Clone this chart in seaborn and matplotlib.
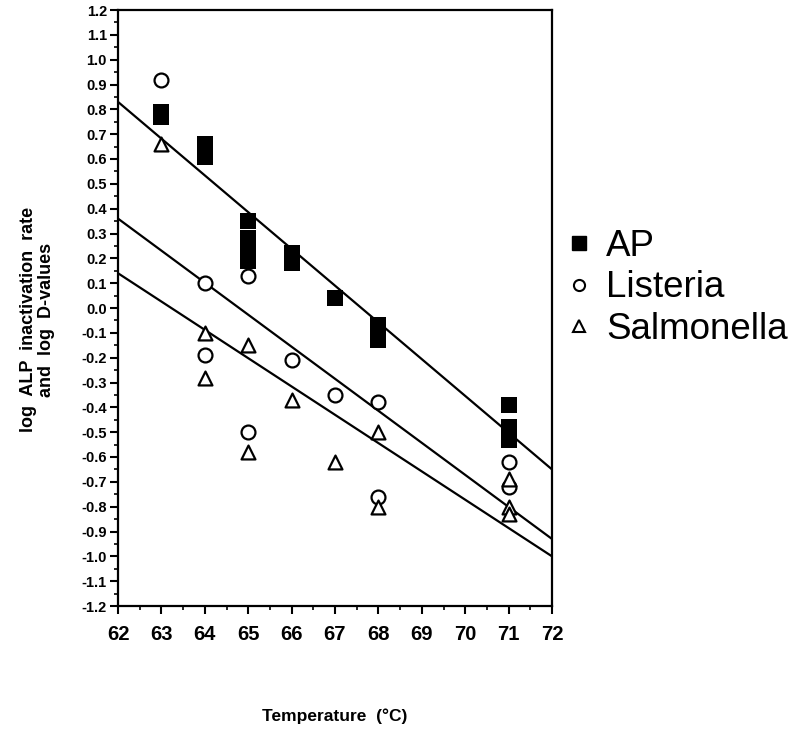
import numpy as np
import pandas as pd
import seaborn as sns
from matplotlib import pyplot as plt
from matplotlib.lines import Line2D

# values
ap_temp = [63, 63, 64, 64, 65, 65, 65, 65, 66, 66, 67, 68, 68, 68, 71, 71, 71]
ap_log = [0.79, 0.77, 0.66, 0.61, 0.35, 0.28, 0.24, 0.19, 0.22, 0.18, 0.04,
          -0.07, -0.10, -0.13, -0.39, -0.48, -0.53]

listeria_temp = [63, 64, 64, 65, 65, 66, 67, 68, 68, 71, 71]
listeria_log = [0.92, 0.10, -0.19, 0.13, -0.50, -0.21, -0.35, -0.38, -0.76, -0.62, -0.72]

salmonella_temp = [63, 64, 64, 65, 65, 66, 67, 68, 68, 71, 71, 71]
salmonella_log = [0.66, -0.10, -0.28, -0.15, -0.58, -0.37, -0.62, -0.50, -0.80,
                  -0.69, -0.80, -0.83]

# fitted lines, end points at 62 and 72
fit_temp = [62, 72]
ap_fit = [0.83, -0.65]
listeria_fit = [0.36, -0.93]
salmonella_fit = [0.14, -1.00]

x_ticks = [62, 63, 64, 65, 66, 67, 68, 69, 70, 71, 72]
y_ticks = np.round(np.arange(-1.2, 1.21, 0.1), 1)

sns.set_style("ticks")
plt.rcParams['font.family'] = ['Liberation Sans', 'DejaVu Sans']
plt.rcParams['text.color'] = 'black'
plt.rcParams['axes.labelcolor'] = 'black'
plt.rcParams['xtick.color'] = 'black'
plt.rcParams['ytick.color'] = 'black'

fig = plt.figure(figsize=(7.92, 7.39), dpi=100)
ax = fig.add_axes([118 / 792, 1 - 606 / 739, 434 / 792, 596 / 739])

for fit in (ap_fit, listeria_fit, salmonella_fit):
    sns.lineplot(x=fit_temp, y=fit, ax=ax, color="black", linewidth=1.6)

df_ap = pd.DataFrame({"t": ap_temp, "v": ap_log})
df_li = pd.DataFrame({"t": listeria_temp, "v": listeria_log})
df_sa = pd.DataFrame({"t": salmonella_temp, "v": salmonella_log})

sns.scatterplot(data=df_ap, x="t", y="v", ax=ax, marker="s", s=120,
                color="black", edgecolor="black", linewidth=0, zorder=3)
sns.scatterplot(data=df_li, x="t", y="v", ax=ax, marker="o", s=100,
                facecolor="white", edgecolor="black", linewidth=1.6, zorder=4)
sns.scatterplot(data=df_sa, x="t", y="v", ax=ax, marker="^", s=100,
                facecolor="white", edgecolor="black", linewidth=1.6, zorder=4)

ax.set_xlim(62, 72)
ax.set_ylim(-1.2, 1.2)
ax.set_xticks(x_ticks)
ax.set_xticklabels([str(t) for t in x_ticks], fontsize=14.5, fontweight="bold")
ax.set_xticks(np.arange(62.5, 72, 1), minor=True)
ax.set_yticks(y_ticks)
ax.set_yticklabels([f"{v:.1f}" for v in y_ticks], fontsize=10.5, fontweight="bold")
ax.set_yticks(np.arange(-1.15, 1.2, 0.1), minor=True)

for side in ax.spines.values():
    side.set_color("black")
    side.set_linewidth(1.6)
ax.tick_params(axis="both", which="major", length=6, width=1.5, color="black")
ax.tick_params(axis="both", which="minor", length=3, width=1.2, color="black")
ax.tick_params(axis="x", pad=8)
ax.tick_params(axis="y", pad=2)

ax.set_xlabel("Temperature  (°C)", fontsize=12.5, fontweight="bold")
ax.xaxis.set_label_coords(0.5, -0.172)
ax.set_ylabel("log  ALP  inactivation  rate\nand  log  D-values", fontsize=13,
              fontweight="bold", linespacing=1.1)
ax.yaxis.set_label_coords(-0.145, 0.48)

handles = [
    Line2D([], [], marker="s", linestyle="", markersize=10, color="black"),
    Line2D([], [], marker="o", linestyle="", markersize=8, markerfacecolor="white",
           markeredgecolor="black", markeredgewidth=1.5),
    Line2D([], [], marker="^", linestyle="", markersize=8, markerfacecolor="white",
           markeredgecolor="black", markeredgewidth=1.5),
]
fig.legend(handles, ["AP", "Listeria", "Salmonella"], loc="center left",
           bbox_to_anchor=(553 / 792, 1 - 288 / 739), frameon=False,
           fontsize=26.5, handlelength=0.6, handletextpad=0.45, labelspacing=0.18,
           borderaxespad=0)

fig.savefig("out.png", dpi=100)
